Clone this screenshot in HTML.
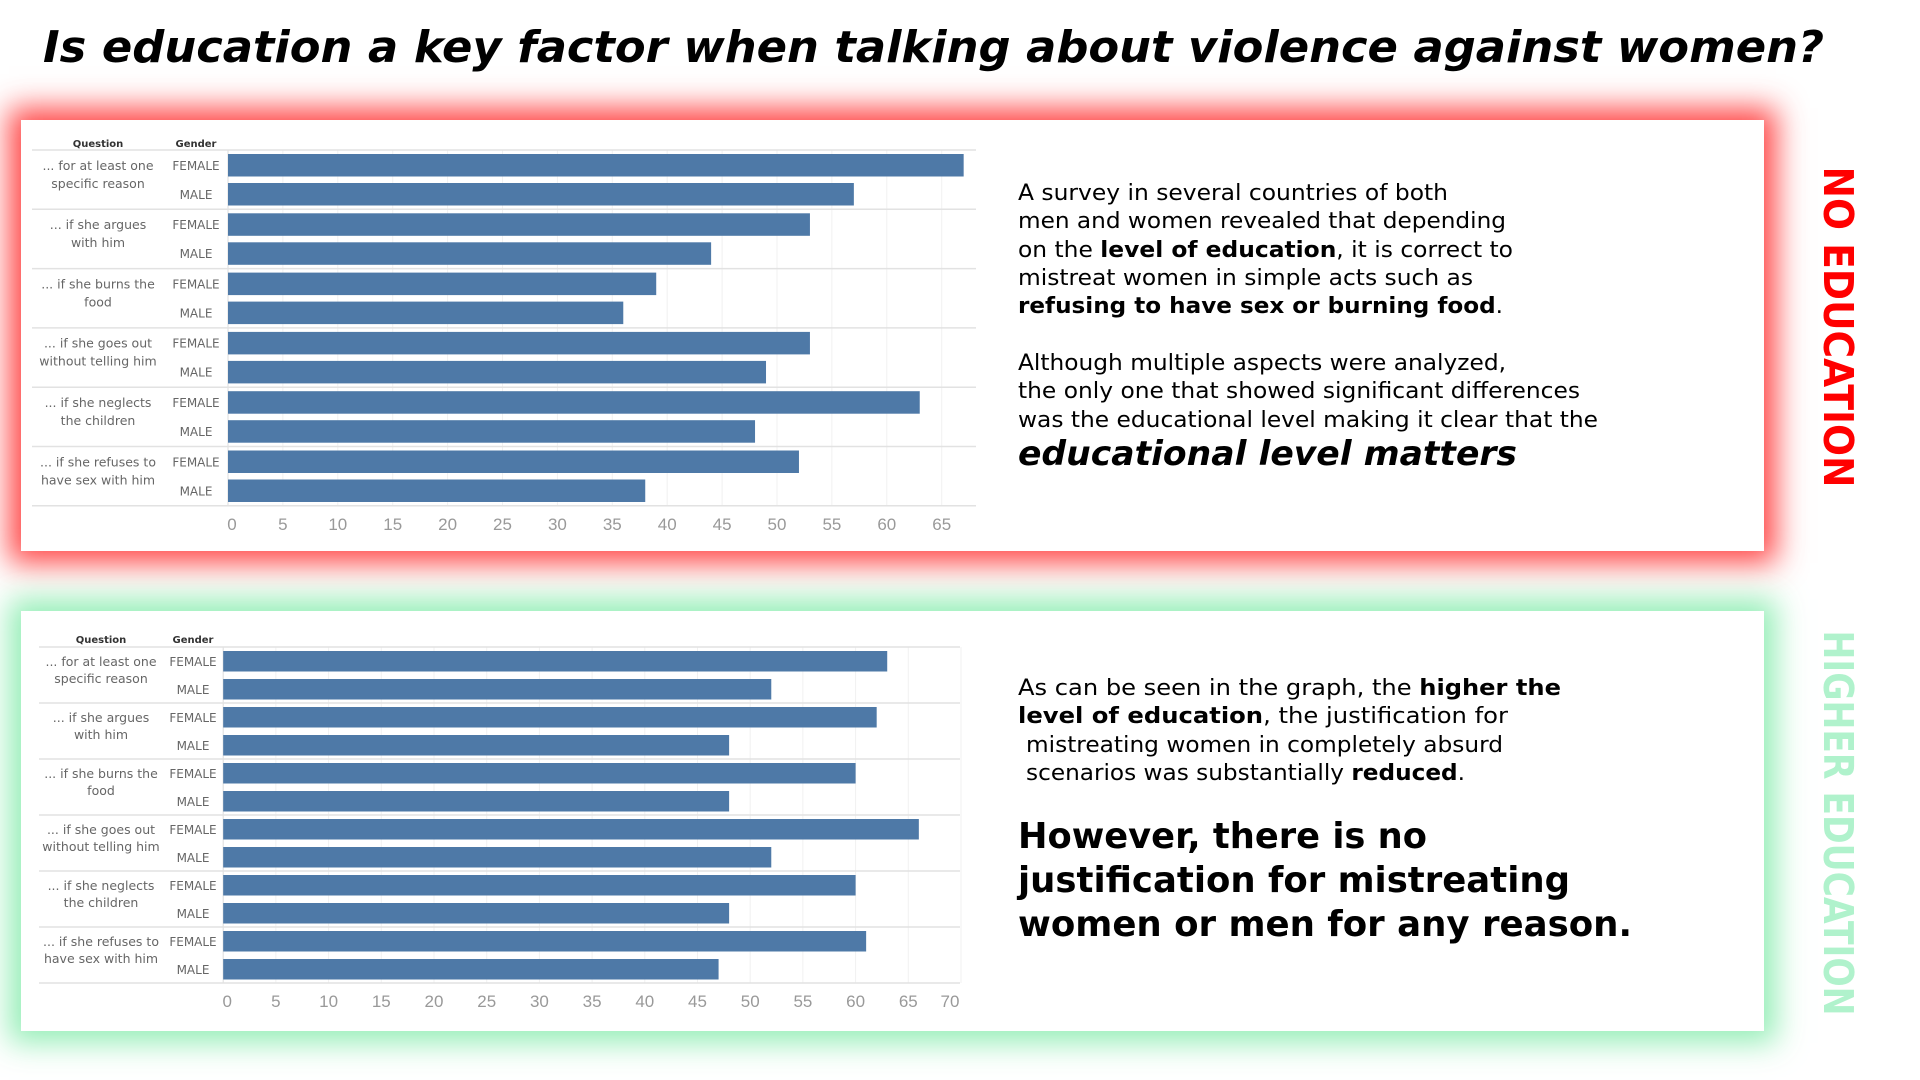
<!DOCTYPE html>
<html><head><meta charset="utf-8"><style>
html,body{margin:0;padding:0;background:#fff;}
body{width:1920px;height:1080px;position:relative;overflow:hidden;font-family:"DejaVu Sans","Liberation Sans",sans-serif;}
.panel{position:absolute;background:#fff;}
#p1{left:21px;top:120px;width:1743px;height:431px;box-shadow:0 0 28px 12px rgba(255,40,40,0.85);}
#p2{left:21px;top:611px;width:1743px;height:420px;box-shadow:0 0 28px 12px rgba(130,235,170,0.85);}
svg{position:absolute;left:0;top:0;}
</style></head><body>
<div class="panel" id="p1"></div>
<div class="panel" id="p2"></div>
<svg id="main" width="1920" height="1080" viewBox="0 0 1920 1080">
  <text x="43" y="62" font-family="DejaVu Sans, sans-serif" font-weight="bold" font-style="italic" font-size="44" textLength="1781" lengthAdjust="spacingAndGlyphs" fill="#000">Is education a key factor when talking about violence against women?</text>

  <g font-family="DejaVu Sans, sans-serif" font-size="22" fill="#000">
    <text x="1018" y="200" textLength="430" lengthAdjust="spacingAndGlyphs">A survey in several countries of both</text>
    <text x="1018" y="228" textLength="488" lengthAdjust="spacingAndGlyphs">men and women revealed that depending</text>
    <text x="1018" y="257" textLength="495" lengthAdjust="spacingAndGlyphs">on the <tspan font-weight="bold">level of education</tspan>, it is correct to</text>
    <text x="1018" y="285" textLength="455" lengthAdjust="spacingAndGlyphs">mistreat women in simple acts such as</text>
    <text x="1018" y="313" textLength="485" lengthAdjust="spacingAndGlyphs"><tspan font-weight="bold">refusing to have sex or burning food</tspan>.</text>
    <text x="1018" y="370" textLength="488" lengthAdjust="spacingAndGlyphs">Although multiple aspects were analyzed,</text>
    <text x="1018" y="398" textLength="562" lengthAdjust="spacingAndGlyphs">the only one that showed significant differences</text>
    <text x="1018" y="427" textLength="580" lengthAdjust="spacingAndGlyphs">was the educational level making it clear that the</text>
    <text x="1018" y="465" font-size="34" font-weight="bold" font-style="italic" textLength="499" lengthAdjust="spacingAndGlyphs">educational level matters</text>
  </g>

  <g font-family="DejaVu Sans, sans-serif" font-size="22" fill="#000">
    <text x="1018" y="695" textLength="543" lengthAdjust="spacingAndGlyphs">As can be seen in the graph, the <tspan font-weight="bold">higher the</tspan></text>
    <text x="1018" y="723" textLength="490" lengthAdjust="spacingAndGlyphs"><tspan font-weight="bold">level of education</tspan>, the justification for</text>
    <text x="1026" y="752" textLength="477" lengthAdjust="spacingAndGlyphs">mistreating women in completely absurd</text>
    <text x="1026" y="780" textLength="439" lengthAdjust="spacingAndGlyphs">scenarios was substantially <tspan font-weight="bold">reduced</tspan>.</text>
    <text x="1018" y="848" font-size="36" font-weight="bold" textLength="409" lengthAdjust="spacingAndGlyphs">However, there is no</text>
    <text x="1018" y="892" font-size="36" font-weight="bold" textLength="552" lengthAdjust="spacingAndGlyphs">justification  for mistreating</text>
    <text x="1018" y="936" font-size="36" font-weight="bold" textLength="614" lengthAdjust="spacingAndGlyphs">women or men  for any reason.</text>
  </g>

  <text transform="translate(1824,327) rotate(90)" text-anchor="middle" font-family="DejaVu Sans, sans-serif" font-weight="bold" font-size="41" fill="#ff0000" textLength="321" lengthAdjust="spacingAndGlyphs">NO EDUCATION</text>
  <text transform="translate(1824,823) rotate(90)" text-anchor="middle" font-family="DejaVu Sans, sans-serif" font-weight="bold" font-size="41" fill="#b0f2cc" textLength="385" lengthAdjust="spacingAndGlyphs">HIGHER EDUCATION</text>

  <g id="chart1"></g>
  <g id="chart2"></g>
</svg>
<script>
const questionsL1 = ["... for at least one", "... if she argues", "... if she burns the", "... if she goes out", "... if she neglects", "... if she refuses to"];
const questionsL2 = ["specific reason", "with him", "food", "without telling him", "the children", "have sex with him"];
const genders = ["FEMALE", "MALE"];
const noEduFemale = [67, 53, 39, 53, 63, 52];
const noEduMale = [57, 44, 36, 49, 48, 38];
const noEduTicks = [0, 5, 10, 15, 20, 25, 30, 35, 40, 45, 50, 55, 60, 65];
const highEduFemale = [63, 62, 60, 66, 60, 61];
const highEduMale = [52, 48, 48, 52, 48, 47];
const highEduTicks = [0, 5, 10, 15, 20, 25, 30, 35, 40, 45, 50, 55, 60, 65, 70];

const NS = "http://www.w3.org/2000/svg";
function mk(parent, tag, attrs, text) {
  const e = document.createElementNS(NS, tag);
  for (const k in attrs) e.setAttribute(k, attrs[k]);
  if (text !== undefined) e.textContent = text;
  parent.appendChild(e);
  return e;
}

function drawChart(g, cfg, fem, male, ticks) {
  const xs = v => cfg.x0 + v * cfg.unit;
  const rowY = i => cfg.top + i * cfg.rowH;
  // header
  const hq = mk(g, "text", {x: cfg.qx, y: cfg.headY, "text-anchor": "middle", "font-size": 10, "font-weight": "bold", fill: "#333", "font-family": "DejaVu Sans, sans-serif"}, "Question");
  
  
  const hg = mk(g, "text", {x: cfg.gx, y: cfg.headY, "text-anchor": "middle", "font-size": 10, "font-weight": "bold", fill: "#333", "font-family": "DejaVu Sans, sans-serif"}, "Gender");
  
  
  // gridlines
  ticks.forEach(t => {
    const gl = mk(g, "line", {x1: xs(t), x2: xs(t), y1: cfg.top, y2: rowY(6), stroke: t === 0 ? "#dddddd" : "#f1f1f1", "stroke-width": 1});
    
    
  });
  for (let i = 0; i <= 6; i++) {
    const sep = mk(g, "line", {x1: cfg.left, x2: cfg.right, y1: rowY(i), y2: rowY(i), stroke: "#e2e2e2", "stroke-width": 1.5});
    
    
  }
  for (let i = 0; i < 6; i++) {
    const y = rowY(i);
    const vals = [fem[i], male[i]];
    const offs = [cfg.fOff, cfg.mOff];
    for (let j = 0; j < 2; j++) {
      const b = mk(g, "rect", {x: xs(0), y: y + offs[j], width: xs(vals[j]) - xs(0), height: cfg.barH, fill: "#4e79a7"});
      
      
      const gl = mk(g, "text", {x: cfg.gx, y: y + offs[j] + cfg.barH / 2 + 4.5, "text-anchor": "middle", "font-size": 12, fill: "#666", "font-family": "DejaVu Sans, sans-serif"}, genders[j]);
      
      
    }
    const q1 = mk(g, "text", {x: cfg.qx, y: y + cfg.fOff + cfg.barH / 2 + 4.5, "text-anchor": "middle", "font-size": 12.5, fill: "#666", "font-family": "DejaVu Sans, sans-serif"}, questionsL1[i]);
    
    
    const q2 = mk(g, "text", {x: cfg.qx, y: y + cfg.fOff + cfg.barH / 2 + 4.5 + cfg.lineGap, "text-anchor": "middle", "font-size": 12.5, fill: "#666", "font-family": "DejaVu Sans, sans-serif"}, questionsL2[i]);
    
    
  }
  ticks.forEach((t, k) => {
    let x = xs(t);
    if (k === 0) x += 4;
    if (x + 9 > cfg.right) x = cfg.right - 10;
    const tl = mk(g, "text", {x: x, y: cfg.axisY, "text-anchor": "middle", "font-size": 17, fill: "#999", "font-family": "Liberation Sans, sans-serif"}, String(t));
    
    
  });
}

drawChart(document.getElementById("chart1"),
  {x0: 228, unit: 10.98, top: 150, rowH: 59.3, fOff: 4, mOff: 33, barH: 22.5, left: 32, right: 976, qx: 98, gx: 196, headY: 147, axisY: 530, lineGap: 18},
  noEduFemale, noEduMale, noEduTicks);
drawChart(document.getElementById("chart2"),
  {x0: 223.2, unit: 10.54, top: 647, rowH: 56, fOff: 4, mOff: 32, barH: 20.5, left: 39, right: 960, qx: 101, gx: 193, headY: 643, axisY: 1007, lineGap: 17},
  highEduFemale, highEduMale, highEduTicks);
</script>
</body></html>
